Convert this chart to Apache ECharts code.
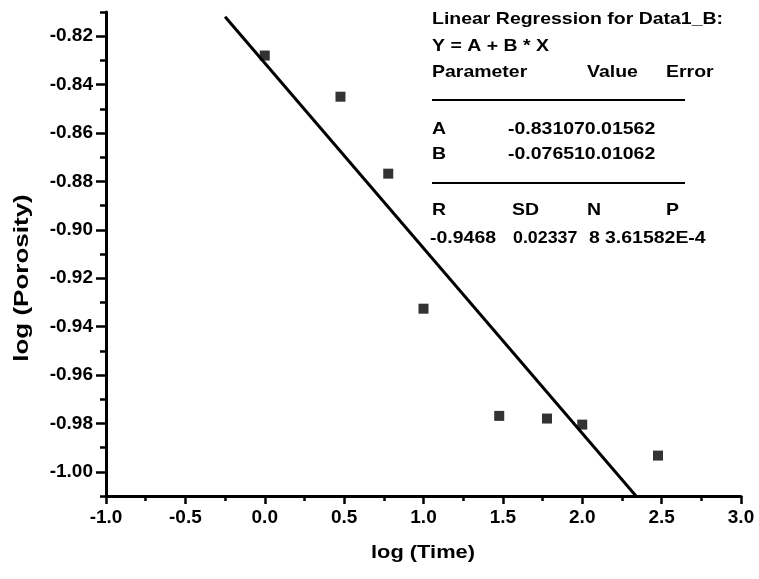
<!DOCTYPE html>
<html>
<head>
<meta charset="utf-8">
<title>log (Porosity) vs log (Time)</title>
<script src="https://cdn.jsdelivr.net/npm/echarts@6/dist/echarts.min.js"></script>
<style>
  html, body { margin: 0; padding: 0; background: #ffffff; }
  #chart { width: 759px; height: 579px; }
</style>
</head>
<body>
<div id="chart"></div>
<script>
// Measured points: log10 of time against log10 of porosity
const logTime = [0, 0.477, 0.778, 1.0, 1.477, 1.778, 2.0, 2.477];
const logPorosity = [-0.828, -0.845, -0.8768, -0.9326, -0.9769, -0.978, -0.9805, -0.9933];

// Linear fit results Y = A + B * X
const paramNames = ['A', 'B'];
const paramValues = ['-0.83107', '-0.07651'];
const paramErrors = ['0.01562', '0.01062'];
const statNames = ['R', 'SD', 'N', 'P'];
const statValues = ['-0.9468', '0.02337', '8', '3.61582E-4'];
const fitXRange = [-0.25, 2.5];

// Axis ranges and tick labels
const xRange = [-1.0, 3.0];
const xStep = 0.5;
const yRange = [-1.01, -0.81];
const yMinorStep = 0.01;
const yTickLabels = [-1.00, -0.98, -0.96, -0.94, -0.92, -0.90, -0.88, -0.86, -0.84, -0.82];

const A = parseFloat(paramValues[0]);
const B = parseFloat(paramValues[1]);
const fitLine = fitXRange.map(x => [x, A + B * x]);
const points = logTime.map((x, i) => [x, logPorosity[i]]);

const FONT = '"Liberation Sans", Arial, sans-serif';
const txtFont = 'bold 16.5px ' + FONT;
const SX = 1.18;

function label(text, x, y, sx) {
  return {
    type: 'text', x: x, y: y, scaleX: sx || SX, z: 10,
    style: { text: text, font: txtFont, fill: '#000', align: 'left', verticalAlign: 'middle' }
  };
}
function rule(y) {
  return {
    type: 'line', z: 10,
    shape: { x1: 432, y1: y, x2: 685, y2: y },
    style: { stroke: '#000', lineWidth: 2 }
  };
}

// Fit summary block in the upper right
const summary = [
  label('Linear Regression for Data1_B:', 432, 19),
  label('Y = A + B * X', 432, 46),
  label('Parameter', 432, 72),
  label('Value', 587, 72),
  label('Error', 666, 72),
  rule(100),
  label(paramNames[0], 432, 129),
  label(paramValues[0] + paramErrors[0], 508, 129),
  label(paramNames[1], 432, 154),
  label(paramValues[1] + paramErrors[1], 508, 154),
  rule(183),
  label(statNames[0], 432, 210),
  label(statNames[1], 512, 210),
  label(statNames[2], 587, 210),
  label(statNames[3], 666, 210),
  label(statValues[0], 430, 238),
  label(statValues[1], 513, 238, 1.08),
  label(statValues[2], 589, 238),
  label(statValues[3], 605, 238)
];

// Axis titles
const titles = [
  {
    type: 'text', x: 423, y: 553, scaleX: 1.15,
    style: { text: 'log (Time)', font: 'bold 19px ' + FONT, fill: '#000', align: 'center', verticalAlign: 'middle' }
  },
  {
    type: 'text', x: 22, y: 278, rotation: Math.PI / 2, scaleX: 1.3,
    style: { text: 'log (Porosity)', font: 'bold 20px ' + FONT, fill: '#000', align: 'center', verticalAlign: 'middle' }
  }
];

const chart = echarts.init(document.getElementById('chart'), null, { renderer: 'canvas' });

const axisLabelStyle = { color: '#000', fontFamily: FONT, fontWeight: 'bold', fontSize: 19 };

chart.setOption({
  backgroundColor: '#ffffff',
  animation: false,
  grid: { left: 106, right: 18, top: 12, bottom: 83, containLabel: false },
  xAxis: {
    type: 'value',
    min: xRange[0], max: xRange[1], interval: xStep,
    axisLine: { show: true, onZero: false, lineStyle: { color: '#000', width: 3 } },
    axisTick: { show: true, inside: false, length: 8, lineStyle: { color: '#000', width: 2.5 } },
    minorTick: { show: true, splitNumber: 2, length: 5, lineStyle: { color: '#000', width: 2.5 } },
    splitLine: { show: false },
    minorSplitLine: { show: false },
    axisLabel: Object.assign({ margin: 12, formatter: v => v.toFixed(1) }, axisLabelStyle)
  },
  yAxis: [
    {
      type: 'value',
      min: yRange[0], max: yRange[1], interval: yMinorStep,
      axisLine: { show: true, onZero: false, lineStyle: { color: '#000', width: 3 } },
      axisTick: { show: true, inside: false, length: 10, customValues: yTickLabels, lineStyle: { color: '#000', width: 2.5 } },
      splitLine: { show: false },
      axisLabel: Object.assign({ margin: 13, customValues: yTickLabels, formatter: v => v.toFixed(2) }, axisLabelStyle)
    },
    {
      // short ticks every 0.01
      type: 'value',
      position: 'left',
      min: yRange[0], max: yRange[1], interval: yMinorStep,
      axisLine: { show: false, onZero: false },
      axisTick: { show: true, inside: false, length: 6, lineStyle: { color: '#000', width: 2.5 } },
      axisLabel: { show: false },
      splitLine: { show: false }
    }
  ],
  series: [
    {
      name: 'Data1_B',
      type: 'scatter',
      data: points,
      symbol: 'rect',
      symbolSize: 10,
      itemStyle: { color: '#000' },
      z: 3
    },
    {
      name: 'Linear Fit',
      type: 'line',
      data: fitLine,
      showSymbol: false,
      symbol: 'none',
      clip: true,
      lineStyle: { color: '#000', width: 3 },
      z: 2
    }
  ],
  graphic: summary.concat(titles)
});
</script>
</body>
</html>
